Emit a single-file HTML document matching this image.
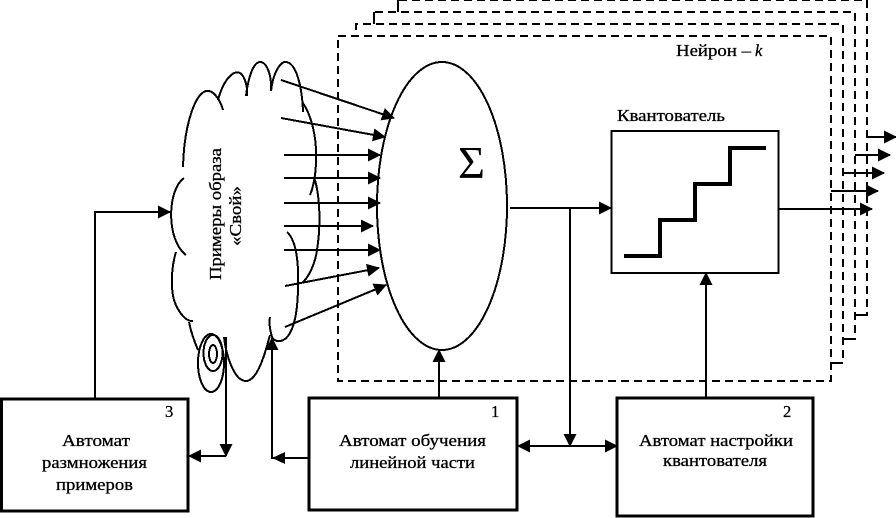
<!DOCTYPE html>
<html><head><meta charset="utf-8"><style>
html,body{margin:0;padding:0;background:#fff;width:896px;height:518px;overflow:hidden}
svg{display:block}
text{font-family:"Liberation Serif",serif;font-size:16.5px;fill:#000;stroke:#000;stroke-width:.3px}
</style></head><body>
<svg width="896" height="518" viewBox="0 0 896 518" xmlns="http://www.w3.org/2000/svg">
<defs>
<marker id="a" markerUnits="userSpaceOnUse" markerWidth="13" markerHeight="13" refX="12" refY="6.500" orient="auto"><path d="M0 0L13 6.500L0 13Z" fill="#000"/></marker>
</defs>
<g shape-rendering="crispEdges">
<!-- dashed neurons -->
<g fill="none" stroke="#000" stroke-width="2" stroke-dasharray="8 5">
<rect x="338" y="36" width="493" height="345"/>
<path d="M356 30V24H843V363H831"/>
<path d="M374 24V12H855V339H843"/>
<path d="M398 12V0H867V315H855"/>
</g>
<path d="M398 0V12M374 12V24M831 363H843M843 339H855M855 315H867" stroke="#000" stroke-width="2" fill="none"/>
<!-- cloud -->
<g fill="none" stroke="#000" stroke-width="2">
<path d="M184 178C167 190 166 240 186 255"/>
<path d="M183 167C184 125 196 88 209 91C215 92 221 102 223 110"/>
<path d="M218 100C224 78 234 70 240 73C245 76 248 88 247 96"/>
<path d="M246 96C249 72 255 61 261 62C267 63 272 76 271 91"/>
<path d="M271 91C273 72 281 61 286 62C296 63 302 85 303 112"/>
<path d="M302 102C312 115 317 140 316 160C316 175 313 188 310 195"/>
<path d="M314 177C320 195 321 225 317 250C315 265 308 278 302 283"/>
<path d="M287 232C294 238 299 255 298 285C298 305 296 322 290 333C285 342 276 344 272 337C270 330 269 322 270 317"/>
<path d="M270 335C266 350 258 381 246 381C234 381 226 355 224 337"/>
<path d="M176 252C172 265 170 285 174 300C178 312 186 322 193 321"/>
<path d="M189 322C191 332 195 343 198 350"/>
<ellipse cx="211" cy="363" rx="13" ry="29"/>
<ellipse cx="213" cy="353" rx="9.500" ry="18"/>
<ellipse cx="213" cy="354" rx="4" ry="9"/>
</g>
<!-- input arrows -->
<g fill="none" stroke="#000" stroke-width="2" marker-end="url(#a)">
<path d="M281 80L394 118"/>
<path d="M281 118L385 137"/>
<path d="M284 155H380"/>
<path d="M284 178H380"/>
<path d="M284 203H380"/>
<path d="M284 226H373"/>
<path d="M284 250H380"/>
<path d="M285 286L379 268"/>
<path d="M285 327L386 285"/>
</g>
<!-- summator -->
<ellipse cx="442" cy="206" rx="65" ry="144" fill="none" stroke="#000" stroke-width="2"/>
<!-- quantizer -->
<rect x="611.500" y="131" width="167" height="142" fill="#fff" stroke="#000" stroke-width="2"/>
<path d="M624 256H660V220H695V184H730V148H766" fill="none" stroke="#000" stroke-width="4"/>
<!-- boxes -->
<g fill="#fff" stroke="#000">
<rect x="1.500" y="399" width="186.500" height="112" stroke-width="3"/>
<rect x="309" y="398" width="208" height="112" stroke-width="3"/>
<rect x="617" y="398" width="196" height="118" stroke-width="3"/>
</g>
<!-- output arrows -->
<g fill="none" stroke="#000" stroke-width="2" marker-end="url(#a)">
<path d="M867 137H896"/>
<path d="M855 155H890"/>
<path d="M843 173H884"/>
<path d="M831 191H878"/>
<path d="M778 209H872"/>
<path d="M510 208H611"/>
<path d="M95 399V212H170"/>
<path d="M570 208V446"/>
<path d="M439 398V350"/>
<path d="M706 398V273"/>
<path d="M226 337V456"/>
<path d="M226 456H189"/>
<path d="M309 458H272V338"/>
<path d="M570 446H617"/>
<path d="M570 446H518"/>
</g>
<path d="M272 458H284" stroke="#000" stroke-width="2"/>
<polygon points="272,458 285,452 285,464" fill="#000"/>
</g>
<text x="458" y="178" textLength="27" lengthAdjust="spacingAndGlyphs" style="font-size:46px;stroke-width:0">Σ</text>
<text x="617" y="121" textLength="108" lengthAdjust="spacingAndGlyphs">Квантователь</text>
<text x="676" y="56" textLength="75" lengthAdjust="spacingAndGlyphs">Нейрон –</text>
<text x="755" y="56" style="font-style:italic">k</text>
<!-- box text -->
<text x="165" y="417">3</text>
<text x="62" y="446" textLength="68" lengthAdjust="spacingAndGlyphs">Автомат</text>
<text x="42" y="468" textLength="105" lengthAdjust="spacingAndGlyphs">размножения</text>
<text x="56" y="490" textLength="77" lengthAdjust="spacingAndGlyphs">примеров</text>
<text x="491" y="417">1</text>
<text x="339" y="446" textLength="147" lengthAdjust="spacingAndGlyphs">Автомат обучения</text>
<text x="350" y="468" textLength="125" lengthAdjust="spacingAndGlyphs">линейной части</text>
<text x="783" y="417">2</text>
<text x="639" y="446" textLength="154" lengthAdjust="spacingAndGlyphs">Автомат настройки</text>
<text x="663" y="466" textLength="104" lengthAdjust="spacingAndGlyphs">квантователя</text>
<!-- rotated text -->
<text transform="translate(221 280) rotate(-90)" textLength="132" lengthAdjust="spacingAndGlyphs">Примеры образа</text>
<text transform="translate(241 246) rotate(-90)" textLength="60" lengthAdjust="spacingAndGlyphs">«Свой»</text>
</svg>
</body></html>
